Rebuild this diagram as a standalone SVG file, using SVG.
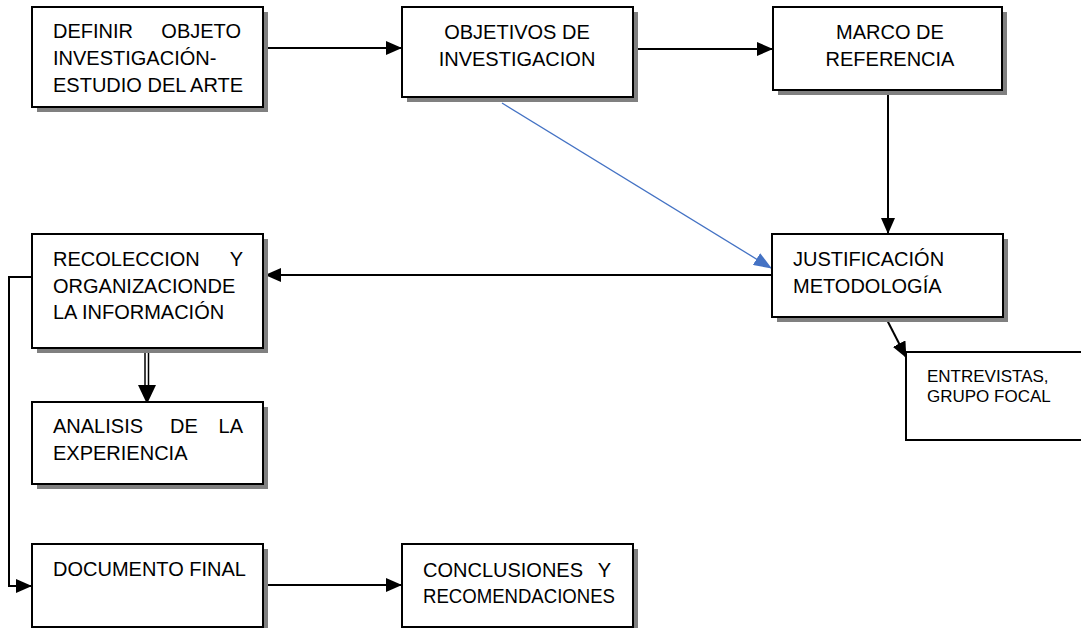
<svg xmlns="http://www.w3.org/2000/svg" width="1081" height="628" viewBox="0 0 1081 628">
<style>
.box{fill:#fff;stroke:#000;stroke-width:2}
.sh{fill:#808080}
.t{font-family:"Liberation Sans",Arial,sans-serif;font-size:20px;fill:#000}
.ts{font-family:"Liberation Sans",Arial,sans-serif;font-size:17px;fill:#000}
.c{fill:none;stroke:#000;stroke-width:2}
.cb{fill:none;stroke:#4472C4;stroke-width:1.3}
</style>
<defs>
<marker id="ah" markerWidth="16" markerHeight="14" refX="15" refY="7" orient="auto" markerUnits="userSpaceOnUse">
<path d="M0,0 L16,7 L0,14 Z" fill="#000"/>
</marker>
<marker id="ahb" markerWidth="18" markerHeight="14" refX="17" refY="7" orient="auto" markerUnits="userSpaceOnUse">
<path d="M0,0 L18,7 L0,14 Z" fill="#4472C4"/>
</marker>
</defs>
<rect width="1081" height="628" fill="#fff"/>

<g id="connectors">
<line class="c" x1="263" y1="48" x2="401" y2="48" marker-end="url(#ah)"/>
<line class="c" x1="633" y1="49" x2="772" y2="49" marker-end="url(#ah)"/>
<line class="c" x1="888" y1="90" x2="888" y2="233" marker-end="url(#ah)"/>
<line class="cb" x1="502" y1="103" x2="771" y2="268" marker-end="url(#ahb)"/>
<line class="c" x1="772" y1="275" x2="266" y2="275" marker-end="url(#ah)"/>
<line class="c" x1="886" y1="318" x2="906" y2="357" marker-end="url(#ah)"/>
<line x1="145" y1="338" x2="145" y2="390" stroke="#000" stroke-width="1.5"/>
<line x1="148.5" y1="338" x2="148.5" y2="390" stroke="#000" stroke-width="1.5"/>
<path d="M138,385 L156,385 L147,404 Z" fill="#000"/>
<path class="c" d="M32,277 H9 V586 H31" marker-end="url(#ah)"/>
<line class="c" x1="263" y1="585" x2="401" y2="585" marker-end="url(#ah)"/>
</g>

<g id="n1">
<rect class="sh" x="37" y="12" width="231" height="100"/>
<rect class="box" x="32" y="7" width="231" height="100"/>
<text class="t"><tspan x="53" y="38">DEFINIR</tspan><tspan x="241" y="38" text-anchor="end">OBJETO</tspan><tspan x="53" y="65">INVESTIGACIÓN-</tspan><tspan x="53" y="92">ESTUDIO DEL ARTE</tspan></text>
</g>

<g id="n2">
<rect class="sh" x="407" y="12" width="231" height="90"/>
<rect class="box" x="402" y="7" width="231" height="90"/>
<text class="t" text-anchor="middle"><tspan x="517" y="39">OBJETIVOS DE</tspan><tspan x="517" y="66">INVESTIGACION</tspan></text>
</g>

<g id="n3">
<rect class="sh" x="778" y="12" width="229" height="83"/>
<rect class="box" x="773" y="7" width="229" height="83"/>
<text class="t" text-anchor="middle"><tspan x="890" y="39">MARCO DE</tspan><tspan x="890" y="66">REFERENCIA</tspan></text>
</g>

<g id="n4">
<rect class="sh" x="777" y="239" width="231" height="83"/>
<rect class="box" x="772" y="234" width="231" height="83"/>
<text class="t"><tspan x="793" y="266">JUSTIFICACIÓN</tspan><tspan x="793" y="293">METODOLOGÍA</tspan></text>
</g>

<g id="n5">
<rect class="sh" x="37" y="239" width="231" height="114"/>
<rect class="box" x="32" y="234" width="231" height="114"/>
<text class="t"><tspan x="53" y="266">RECOLECCION</tspan><tspan x="243" y="266" text-anchor="end">Y</tspan><tspan x="53" y="293">ORGANIZACIONDE</tspan><tspan x="53" y="319">LA INFORMACIÓN</tspan></text>
</g>

<g id="n6">
<rect class="sh" x="37" y="407" width="231" height="82"/>
<rect class="box" x="32" y="402" width="231" height="82"/>
<text class="t"><tspan x="53" y="433">ANALISIS</tspan><tspan x="170" y="433">DE</tspan><tspan x="243" y="433" text-anchor="end">LA</tspan><tspan x="53" y="460">EXPERIENCIA</tspan></text>
</g>

<g id="n7">
<path d="M906,352 H1082 M906,352 V440 H1082" fill="none" stroke="#000" stroke-width="2"/>
<text class="ts"><tspan x="927" y="382">ENTREVISTAS,</tspan><tspan x="927" y="402">GRUPO FOCAL</tspan></text>
</g>

<g id="n8">
<rect class="sh" x="37" y="549" width="231" height="90"/>
<rect class="box" x="32" y="544" width="231" height="83"/>
<text class="t"><tspan x="53" y="576">DOCUMENTO FINAL</tspan></text>
</g>

<g id="n9">
<rect class="sh" x="407" y="549" width="231" height="90"/>
<rect class="box" x="402" y="544" width="231" height="83"/>
<text class="t"><tspan x="423" y="577">CONCLUSIONES</tspan><tspan x="611" y="577" text-anchor="end">Y</tspan><tspan x="423" y="603" textLength="192" lengthAdjust="spacingAndGlyphs">RECOMENDACIONES</tspan></text>
</g>
</svg>
